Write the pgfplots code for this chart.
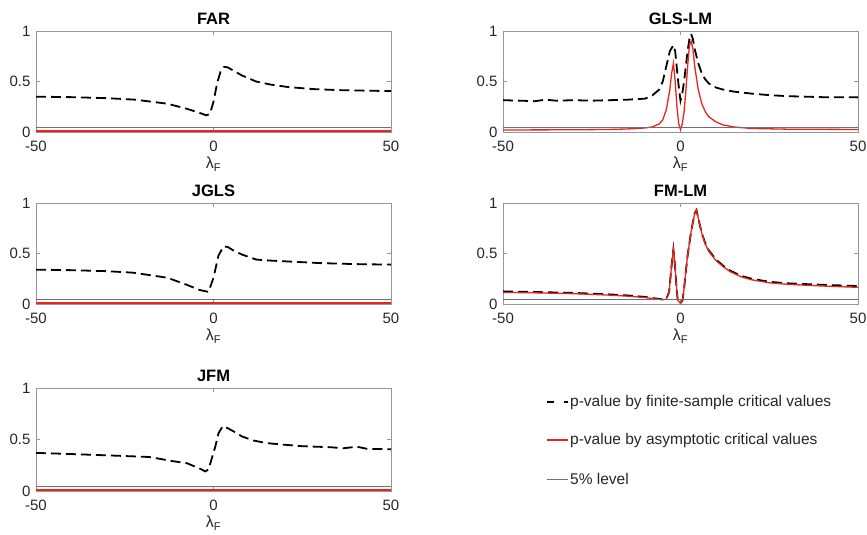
\documentclass[border=0pt]{standalone}
\usepackage{fontspec}
\setmainfont{Liberation Sans}
\usepackage{pgfplots}
\pgfplotsset{compat=1.18}

\definecolor{mred}{RGB}{232,36,28}
\definecolor{boxgray}{RGB}{150,150,150}
\definecolor{lvlgray}{RGB}{110,110,110}

\tikzset{
  fin/.style={black, line width=1.8pt, dash pattern=on 10pt off 5pt},
  asy/.style={mred, line width=1.3pt},
  lev/.style={lvlgray, line width=0.7pt},
}
\pgfplotsset{
  panel/.style={
    scale only axis, width=355pt, height=101pt, anchor=north west,
    xmin=-50, xmax=50, ymin=0, ymax=1,
    xtick={-50,0,50}, xticklabels={-50,0,50},
    ytick={0,0.5,1}, yticklabels={0,0.5,1},
    axis line style={boxgray}, tick style={boxgray, line width=0.5pt},
    major tick length=4pt, tick align=inside,
    ticklabel style={font=\fontsize{15}{17}\selectfont, text=black!85},
    /pgf/number format/assume math mode=true,
    title style={font=\bfseries\fontsize{16.5}{18}\selectfont, yshift=-3pt},
    xlabel={λ\textsubscript{F}},
    xlabel style={font=\fontsize{16}{18}\selectfont, text=black!85, yshift=1pt},
    yticklabel style={xshift=-2pt},
    xticklabel style={yshift=-5pt},
  },
}

\begin{document}
\begin{tikzpicture}
\useasboundingbox (0,0) rectangle (867pt,-535pt);

% FAR
\begin{axis}[panel, at={(36pt,-31pt)}, title={FAR}]
\addplot[fin] coordinates {(-50,0.35)(-40,0.345)(-30,0.335)(-22,0.32)(-13,0.28)(-7.5,0.23)(-4,0.19)(-2,0.165)(-1,0.18)(0,0.3)(1,0.48)(2,0.6)(3,0.645)(4,0.64)(5,0.62)(8,0.56)(12,0.5)(16,0.47)(21,0.445)(28,0.425)(35,0.415)(42,0.41)(50,0.405)};
\addplot[asy] coordinates {(-50,0.01)(0,0.01)(50,0.01)};
\addplot[lev] coordinates {(-50,0.05)(50,0.05)};
\end{axis}

% GLS-LM
\begin{axis}[panel, at={(503pt,-31pt)}, title={GLS-LM}]
\addplot[fin] coordinates {(-50,0.315)(-45,0.31)(-41,0.305)(-38,0.32)(-35,0.31)(-30,0.315)(-25,0.31)(-20,0.315)(-15,0.32)(-10,0.33)(-8,0.36)(-6,0.42)(-5,0.5)(-4,0.65)(-3,0.8)(-2,0.86)(-1.5,0.8)(-1,0.62)(-0.5,0.45)(0,0.31)(0.5,0.38)(1,0.5)(1.5,0.65)(2,0.8)(2.5,0.92)(3,0.97)(3.5,0.92)(4,0.82)(5,0.68)(6,0.58)(7,0.52)(8,0.48)(10,0.44)(12,0.42)(15,0.4)(20,0.38)(25,0.365)(30,0.355)(40,0.345)(50,0.343)};
\addplot[asy] coordinates {(-50,0.02)(-30,0.022)(-20,0.025)(-15,0.03)(-10,0.04)(-8,0.05)(-6,0.08)(-5,0.12)(-4,0.22)(-3,0.42)(-2.5,0.58)(-2,0.68)(-1.5,0.5)(-1,0.25)(-0.5,0.08)(0,0.025)(0.5,0.08)(1,0.2)(1.5,0.4)(2,0.65)(2.5,0.85)(3,0.9)(3.5,0.82)(4,0.65)(5,0.42)(6,0.28)(7,0.2)(8,0.15)(10,0.1)(12,0.07)(15,0.05)(20,0.035)(30,0.028)(50,0.025)};
\addplot[lev] coordinates {(-50,0.05)(50,0.05)};
\end{axis}

% JGLS
\begin{axis}[panel, at={(36pt,-203pt)}, title={JGLS}]
\addplot[fin] coordinates {(-50,0.34)(-40,0.335)(-30,0.325)(-22.6,0.31)(-13,0.26)(-7.5,0.19)(-4,0.14)(-2.8,0.13)(-1.4,0.12)(0,0.26)(1.4,0.48)(2.8,0.57)(4,0.565)(5.6,0.53)(8,0.49)(12,0.44)(16,0.43)(21.6,0.42)(30,0.405)(40,0.395)(50,0.39)};
\addplot[asy] coordinates {(-50,0.011)(0,0.011)(50,0.011)};
\addplot[lev] coordinates {(-50,0.05)(50,0.05)};
\end{axis}

% FM-LM
\begin{axis}[panel, at={(503pt,-203pt)}, title={FM-LM}]
\addplot[fin] coordinates {(-50,0.125)(-40,0.118)(-30,0.11)(-20,0.095)(-15,0.085)(-10,0.07)(-7,0.055)(-5,0.045)(-4,0.05)(-3.2,0.12)(-2.6,0.35)(-2,0.54)(-1.6,0.4)(-1.2,0.2)(-0.8,0.04)(0,0.005)(0.6,0.04)(1,0.15)(1.5,0.32)(2,0.48)(3,0.72)(4,0.9)(4.5,0.93)(5,0.85)(6,0.7)(7,0.6)(8,0.53)(10,0.44)(12,0.38)(14,0.33)(17,0.28)(20,0.25)(25,0.22)(30,0.205)(40,0.19)(50,0.178)};
\addplot[asy] coordinates {(-50,0.115)(-40,0.11)(-30,0.102)(-20,0.088)(-15,0.078)(-10,0.064)(-7,0.05)(-5,0.042)(-4,0.048)(-3.2,0.12)(-2.6,0.35)(-2,0.54)(-1.6,0.4)(-1.2,0.2)(-0.8,0.04)(0,0.005)(0.6,0.04)(1,0.15)(1.5,0.32)(2,0.48)(3,0.72)(4,0.9)(4.5,0.93)(5,0.85)(6,0.7)(7,0.59)(8,0.52)(10,0.43)(12,0.37)(14,0.32)(17,0.27)(20,0.24)(25,0.21)(30,0.195)(40,0.178)(50,0.165)};
\addplot[lev] coordinates {(-50,0.05)(50,0.05)};
\end{axis}

% JFM
\begin{axis}[panel, at={(36pt,-388pt)}, height=103pt, title={JFM}]
\addplot[fin] coordinates {(-50,0.37)(-41,0.36)(-29,0.345)(-18,0.33)(-11.5,0.29)(-7.5,0.27)(-4,0.22)(-2.3,0.19)(-1.4,0.21)(0.5,0.43)(1.4,0.56)(2.6,0.63)(4,0.61)(5.6,0.58)(8,0.53)(11.3,0.49)(15,0.465)(19.7,0.45)(25,0.435)(29,0.43)(33,0.425)(36.6,0.415)(40.4,0.43)(43.2,0.41)(50,0.405)};
\addplot[asy] coordinates {(-50,0.009)(0,0.009)(50,0.009)};
\addplot[lev] coordinates {(-50,0.05)(50,0.05)};
\end{axis}

% legend
\begin{scope}[every node/.style={anchor=west, font=\fontsize{15.5}{17}\selectfont, text=black!85, inner sep=0pt}]
\draw[black, line width=1.8pt, dash pattern=on 7pt off 10pt] (547pt,-402pt) -- (568pt,-402pt);
\node at (570pt,-402pt) {p-value by finite-sample critical values};
\draw[asy] (547pt,-440pt) -- (568pt,-440pt);
\node at (570pt,-440pt) {p-value by asymptotic critical values};
\draw[lev] (547pt,-479pt) -- (568pt,-479pt);
\node at (570pt,-479pt) {5\% level};
\end{scope}
\end{tikzpicture}
\end{document}
